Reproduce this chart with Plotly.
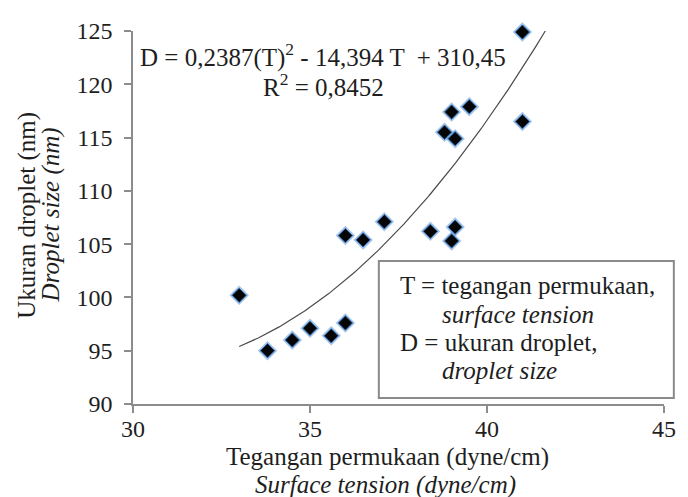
import numpy as np
import plotly.graph_objects as go

# Surface tension (dyne/cm) and droplet size (nm) per sample
surface_tension = [33.0, 33.8, 34.5, 35.0, 35.6, 36.0, 36.0, 36.5, 37.1, 38.4,
                   39.0, 39.1, 38.8, 39.1, 39.0, 39.5, 41.0, 41.0]
droplet_size = [100.2, 95.0, 96.0, 97.1, 96.4, 97.6, 105.8, 105.4, 107.1, 106.2,
                105.3, 106.6, 115.5, 114.9, 117.4, 117.9, 116.5, 124.9]

# Quadratic trend: D = a*T^2 + b*T + c
fit_coef = [0.2387, -14.394, 310.45]
fit_r2 = "0,8452"
fit_span = [33.0, 41.65]

x_ticks = [30, 35, 40, 45]
y_ticks = [90, 95, 100, 105, 110, 115, 120, 125]

W, H = 688, 497
ML, MR, MT, MB = 133, 15, 31, 93
PW, PH = W - ML - MR, H - MT - MB

SERIF = "Liberation Serif, Times New Roman, serif"
INK = "#1e1e1e"
AXIS = "#8c8c8c"


def px_x(p):
    return (p - ML) / PW


def px_y(p):
    return (H - MB - p) / PH


t_fit = np.linspace(fit_span[0], fit_span[1], 200)
d_fit = np.polyval(fit_coef, t_fit)

fig = go.Figure()

fig.add_trace(go.Scatter(
    x=t_fit, y=d_fit, mode="lines",
    line=dict(color="#4a4a4a", width=1.2),
    hoverinfo="skip", showlegend=False,
))

# soft blue halo under each marker
fig.add_trace(go.Scatter(
    x=surface_tension, y=droplet_size, mode="markers",
    marker=dict(symbol="diamond", size=15, color="rgba(90,150,215,0.55)",
                line=dict(width=0)),
    cliponaxis=False, hoverinfo="skip", showlegend=False,
))
fig.add_trace(go.Scatter(
    x=surface_tension, y=droplet_size, mode="markers",
    marker=dict(symbol="diamond", size=11, color="#050505",
                line=dict(color="#2f6fb5", width=1)),
    cliponaxis=False, showlegend=False,
))

a, b, c = fit_coef
eq_text = (f"D = {str(a).replace('.', ',')}(T)<sup>2</sup> - "
           f"{str(abs(b)).replace('.', ',')} T  + {str(c).replace('.', ',')}")

annotations = [
    dict(text=eq_text, x=px_x(326), y=px_y(55)),
    dict(text=f"R<sup>2</sup> = {fit_r2}", x=px_x(327), y=px_y(85)),
    dict(text="Tegangan permukaan (dyne/cm)", x=px_x(392), y=px_y(457)),
    dict(text="<i>Surface tension (dyne/cm)</i>", x=px_x(390), y=px_y(485)),
    dict(text="Ukuran droplet (nm)", x=px_x(25), y=px_y(215), textangle=-90),
    dict(text="<i>Droplet size (nm)</i>", x=px_x(50), y=px_y(215), textangle=-90),
    dict(text="T = tegangan permukaan,", x=px_x(402), y=px_y(285), xanchor="left"),
    dict(text="<i>surface tension</i>", x=px_x(445), y=px_y(314), xanchor="left"),
    dict(text="D = ukuran droplet,", x=px_x(402), y=px_y(342), xanchor="left"),
    dict(text="<i>droplet size</i>", x=px_x(445), y=px_y(370), xanchor="left"),
]
for ann in annotations:
    ann.setdefault("xanchor", "center")
    ann.update(xref="paper", yref="paper", yanchor="middle", showarrow=False,
               font=dict(family=SERIF, size=25, color=INK))

fig.update_layout(
    width=W, height=H, autosize=False,
    margin=dict(l=ML, r=MR, t=MT, b=MB, pad=0),
    paper_bgcolor="white", plot_bgcolor="white",
    font=dict(family=SERIF, size=24, color=INK),
    annotations=annotations,
    shapes=[dict(type="rect", xref="paper", yref="paper",
                 x0=px_x(383), x1=px_x(683), y0=px_y(398), y1=px_y(261),
                 line=dict(color="#8a8a8a", width=2), fillcolor="white",
                 layer="above")],
    xaxis=dict(range=[30, 45], tickvals=x_ticks, ticktext=[str(v) for v in x_ticks],
               showline=True, linecolor=AXIS, linewidth=1.5,
               ticks="outside", ticklen=7, tickcolor=AXIS, tickwidth=1.5,
               ticklabelstandoff=-5,
               showgrid=False, zeroline=False,
               tickfont=dict(family=SERIF, size=24, color=INK)),
    yaxis=dict(range=[90, 125], tickvals=y_ticks, ticktext=[str(v) for v in y_ticks],
               showline=True, linecolor=AXIS, linewidth=1.5,
               ticks="outside", ticklen=7, tickcolor=AXIS, tickwidth=1.5,
               ticklabelstandoff=7,
               showgrid=False, zeroline=False,
               tickfont=dict(family=SERIF, size=24, color=INK)),
)

fig.write_html("out.html")
